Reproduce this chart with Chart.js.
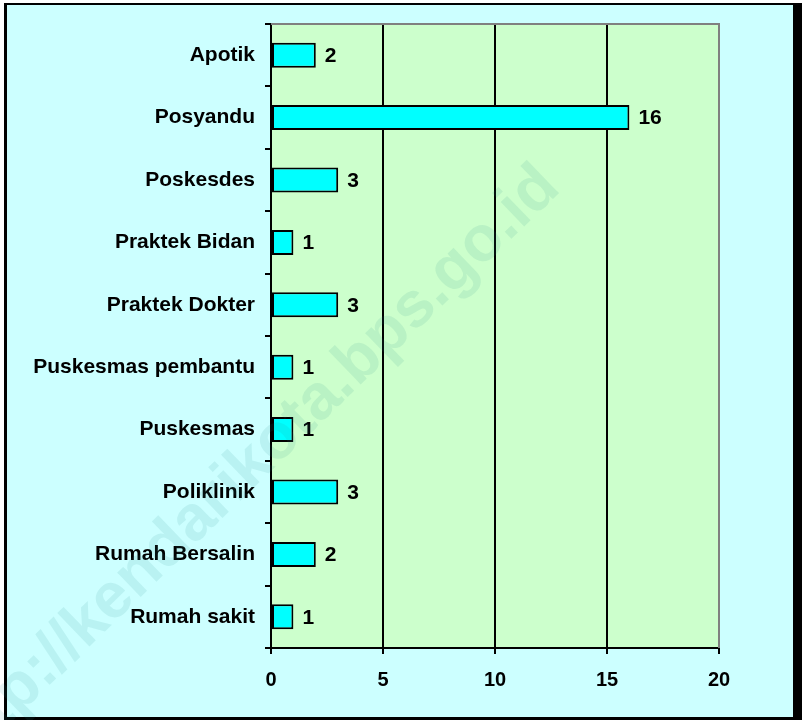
<!DOCTYPE html>
<html>
<head>
<meta charset="utf-8">
<script src="https://cdn.jsdelivr.net/npm/chart.js@4.4.0/dist/chart.umd.min.js"></script>
<style>
  html, body { margin: 0; padding: 0; background: #ffffff; }
  #wrap { width: 802px; height: 720px; position: relative; }
</style>
</head>
<body>
<div id="wrap"><canvas id="c" width="802" height="720"></canvas></div>
<script>
const categories = ["Apotik", "Posyandu", "Poskesdes", "Praktek Bidan", "Praktek Dokter",
  "Puskesmas pembantu", "Puskesmas", "Poliklinik", "Rumah Bersalin", "Rumah sakit"];
const values = [2, 16, 3, 1, 3, 1, 1, 3, 2, 1];
const xMin = 0, xMax = 20, xStep = 5;
const watermark = "http://kendarikota.bps.go.id";

const FONT = "'Liberation Sans', Arial, Helvetica, sans-serif";

const framePlugin = {
  id: 'frame',
  beforeDraw(chart) {
    const ctx = chart.ctx;
    const a = chart.chartArea;
    ctx.save();
    ctx.fillStyle = '#ffffff';
    ctx.fillRect(0, 0, 802, 720);
    ctx.fillStyle = '#000000';
    ctx.fillRect(4, 3, 798, 717);
    ctx.fillStyle = '#ccffff';
    ctx.fillRect(7, 5, 786, 712);
    ctx.fillStyle = '#ccffcc';
    ctx.fillRect(a.left, a.top, a.right - a.left, a.bottom - a.top);
    ctx.restore();
  },
  afterDatasetsDraw(chart) {
    const ctx = chart.ctx;
    const a = chart.chartArea;
    ctx.save();
    ctx.strokeStyle = '#808080';
    ctx.lineWidth = 2;
    ctx.beginPath();
    ctx.moveTo(a.left, a.top);
    ctx.lineTo(a.right, a.top);
    ctx.lineTo(a.right, a.bottom);
    ctx.stroke();
    // value labels
    const meta = chart.getDatasetMeta(0);
    ctx.fillStyle = '#000000';
    ctx.font = 'bold 21px ' + FONT;
    ctx.textAlign = 'left';
    ctx.textBaseline = 'middle';
    meta.data.forEach((bar, i) => {
      ctx.fillText(String(values[i]), bar.x + 9, bar.y + 1);
    });
    ctx.restore();
  },
  afterDraw(chart) {
    const ctx = chart.ctx;
    ctx.save();
    ctx.translate(562, 190);
    ctx.rotate(-44 * Math.PI / 180);
    ctx.font = 'bold 64px ' + FONT;
    ctx.textAlign = 'right';
    ctx.textBaseline = 'alphabetic';
    ctx.fillStyle = 'rgba(40,140,140,0.11)';
    ctx.fillText(watermark, 0, 0);
    ctx.restore();
  }
};

new Chart(document.getElementById('c'), {
  type: 'bar',
  data: {
    labels: categories,
    datasets: [{
      data: values,
      backgroundColor: '#00ffff',
      borderColor: '#000000',
      borderWidth: 2,
      borderSkipped: false,
      barPercentage: 0.4,
      categoryPercentage: 1.0
    }]
  },
  options: {
    indexAxis: 'y',
    responsive: false,
    animation: false,
    devicePixelRatio: 1,
    layout: { padding: { left: 0, top: 24, right: 83, bottom: 0 } },
    plugins: { legend: { display: false }, tooltip: { enabled: false } },
    scales: {
      x: {
        min: xMin, max: xMax,
        ticks: { stepSize: xStep, color: '#000', padding: 14,
          font: { family: FONT, size: 20, weight: 'bold' } },
        grid: {
          color: (c) => (c.tick && c.tick.value === xMax) ? '#808080' : '#000000',
          tickColor: '#000000',
          lineWidth: 2,
          tickLength: 6,
          drawTicks: true
        },
        border: { color: '#000', width: 2 },
        afterFit(scale) { scale.height = 72; }
      },
      y: {
        ticks: { color: '#000', padding: 10,
          font: { family: FONT, size: 21, weight: 'bold' } },
        grid: {
          offset: true,
          drawOnChartArea: false,
          drawTicks: true,
          tickLength: 6,
          color: '#000',
          lineWidth: 2
        },
        border: { color: '#000', width: 2 },
        afterFit(scale) { scale.width = 271; }
      }
    }
  },
  plugins: [framePlugin]
});
</script>
</body>
</html>
